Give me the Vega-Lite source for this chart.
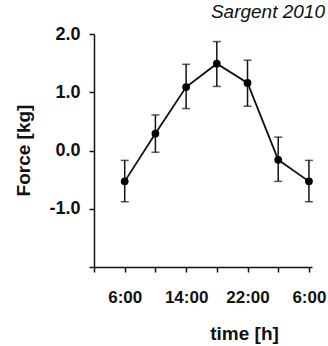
{
  "$schema": "https://vega.github.io/schema/vega-lite/v6.json",
  "width": 218,
  "height": 233,
  "autosize": "none",
  "padding": {"left": 94, "top": 34, "right": 16, "bottom": 79},
  "background": "white",
  "title": {
    "text": "Sargent 2010",
    "anchor": "end",
    "frame": "group",
    "font": "Liberation Sans",
    "fontStyle": "italic",
    "fontWeight": "normal",
    "fontSize": 19,
    "color": "#111",
    "baseline": "alphabetic",
    "offset": 13,
    "dx": 13,
    "dy": 25
  },
  "data": {
    "values": [
      {"t": 6, "f": -0.53, "lo": -0.88, "hi": -0.17},
      {"t": 10, "f": 0.29, "lo": -0.03, "hi": 0.61},
      {"t": 14, "f": 1.09, "lo": 0.72, "hi": 1.48},
      {"t": 18, "f": 1.49, "lo": 1.1, "hi": 1.87},
      {"t": 22, "f": 1.16, "lo": 0.76, "hi": 1.55},
      {"t": 26, "f": -0.16, "lo": -0.53, "hi": 0.23},
      {"t": 30, "f": -0.53, "lo": -0.88, "hi": -0.17}
    ]
  },
  "encoding": {
    "x": {
      "field": "t",
      "type": "quantitative",
      "scale": {"domain": [2, 30.4], "nice": false, "zero": false},
      "axis": {
        "values": [2, 6, 10, 14, 18, 22, 26, 30],
        "labelExpr": "(datum.value - 6) % 8 == 0 ? (datum.value % 24) + ':00' : ''",
        "title": "time [h]",
        "titleX": 150,
        "titleY": 72,
        "titleBaseline": "alphabetic",
        "titleAlign": "center",
        "labelPadding": 17,
        "labelBaseline": "top"
      }
    }
  },
  "layer": [
    {
      "mark": {"type": "rule", "color": "#111", "strokeWidth": 1.5},
      "encoding": {
        "y": {"field": "lo", "type": "quantitative"},
        "y2": {"field": "hi"}
      }
    },
    {
      "mark": {"type": "tick", "orient": "horizontal", "color": "#111", "size": 8, "thickness": 1.5},
      "encoding": {"y": {"field": "lo", "type": "quantitative"}}
    },
    {
      "mark": {"type": "tick", "orient": "horizontal", "color": "#111", "size": 8, "thickness": 1.5},
      "encoding": {"y": {"field": "hi", "type": "quantitative"}}
    },
    {
      "mark": {"type": "line", "color": "#111", "strokeWidth": 1.8},
      "encoding": {"y": {"field": "f", "type": "quantitative"}}
    },
    {
      "mark": {"type": "point", "filled": true, "color": "#000", "opacity": 1, "size": 60},
      "encoding": {
        "y": {
          "field": "f",
          "type": "quantitative",
          "scale": {"domain": [-2, 2], "nice": false, "zero": false},
          "axis": {
            "values": [-2, -1, 0, 1, 2],
            "labelExpr": "datum.value == -2 ? '' : (datum.value < 0 ? '-' : '') + format(abs(datum.value), '.1f')",
            "title": "Force [kg]",
            "titleX": -61,
            "titleY": 116,
            "titleAlign": "center",
            "titleBaseline": "bottom",
            "labelPadding": 9,
            "labelFontSize": 18
          }
        }
      }
    }
  ],
  "config": {
    "view": {"stroke": null},
    "axis": {
      "grid": false,
      "domainColor": "#111",
      "domainWidth": 1.5,
      "tickColor": "#111",
      "tickWidth": 1.5,
      "tickSize": 5,
      "labelFont": "Liberation Sans",
      "labelFontWeight": "bold",
      "labelFontSize": 17,
      "labelColor": "#111",
      "titleFont": "Liberation Sans",
      "titleFontWeight": "bold",
      "titleFontSize": 19,
      "titleColor": "#111",
      "labelOverlap": false,
      "labelFlush": false
    }
  }
}
